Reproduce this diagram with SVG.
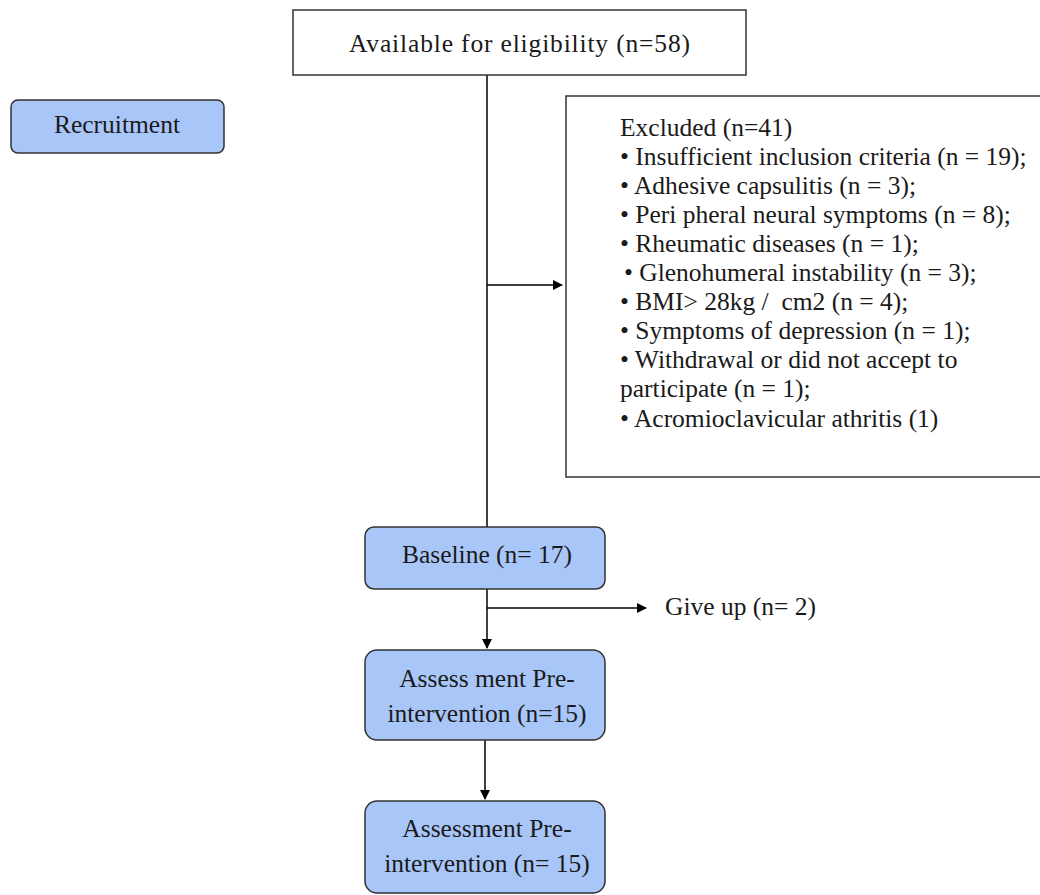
<svg xmlns="http://www.w3.org/2000/svg" width="1040" height="895" viewBox="0 0 1040 895">
<defs>
<marker id="ah" markerWidth="10" markerHeight="10" refX="9" refY="5" orient="auto" markerUnits="userSpaceOnUse">
<path d="M0,0 L10,5 L0,10 Z" fill="#000"/>
</marker>
<style>
text{font-family:"Liberation Serif","Times New Roman",serif;font-size:25.5px;fill:#1a1a1a}
.blue{fill:#a9c6f8;stroke:#333;stroke-width:1.5}
.plain{fill:#fff;stroke:#333;stroke-width:1.5}
.c{text-anchor:middle}
.ln{stroke:#000;stroke-width:1.5;fill:none}
</style>
</defs>
<rect width="1040" height="895" fill="#fff"/>
<g id="connectors">
<line class="ln" x1="487" y1="75" x2="487" y2="527"/>
<line class="ln" x1="487" y1="285" x2="562" y2="285" marker-end="url(#ah)"/>
<line class="ln" x1="487" y1="589" x2="487" y2="648" marker-end="url(#ah)"/>
<line class="ln" x1="487" y1="608" x2="646" y2="608" marker-end="url(#ah)"/>
<line class="ln" x1="485" y1="740" x2="485" y2="799" marker-end="url(#ah)"/>
</g>
<g id="available">
<rect class="plain" x="293" y="10" width="453" height="65"/>
<text x="349" y="52" textLength="341" lengthAdjust="spacing">Available for eligibility (n=58)</text>
</g>
<g id="recruitment">
<rect class="blue" x="11" y="100" width="213" height="53" rx="7"/>
<text class="c" x="117" y="133">Recruitment</text>
</g>
<g id="excluded">
<rect class="plain" x="566" y="96" width="480" height="381"/>
<text x="620" y="136">Excluded (n=41)</text>
<text x="620" y="165">• Insufficient inclusion criteria (n = 19);</text>
<text x="620" y="194">• Adhesive capsulitis (n = 3);</text>
<text x="620" y="223">• Peri pheral neural symptoms (n = 8);</text>
<text x="620" y="252">• Rheumatic diseases (n = 1);</text>
<text x="624" y="281">• Glenohumeral instability (n = 3);</text>
<text x="620" y="310">• BMI&gt; 28kg / &#160;cm2 (n = 4);</text>
<text x="620" y="339">• Symptoms of depression (n = 1);</text>
<text x="620" y="368">• Withdrawal or did not accept to</text>
<text x="620" y="397">participate (n = 1);</text>
<text x="620" y="427">• Acromioclavicular athritis (1)</text>
</g>
<g id="baseline">
<rect class="blue" x="365" y="527" width="240" height="62" rx="9"/>
<text class="c" x="487" y="563">Baseline (n= 17)</text>
</g>
<g id="giveup">
<text x="665" y="615">Give up (n= 2)</text>
</g>
<g id="assess1">
<rect class="blue" x="365" y="650" width="240" height="90" rx="12"/>
<text class="c" x="487" y="687">Assess ment Pre-</text>
<text class="c" x="487" y="722">intervention (n=15)</text>
</g>
<g id="assess2">
<rect class="blue" x="365" y="801" width="240" height="92" rx="12"/>
<text class="c" x="487" y="837">Assessment Pre-</text>
<text class="c" x="487" y="872">intervention (n= 15)</text>
</g>
</svg>
